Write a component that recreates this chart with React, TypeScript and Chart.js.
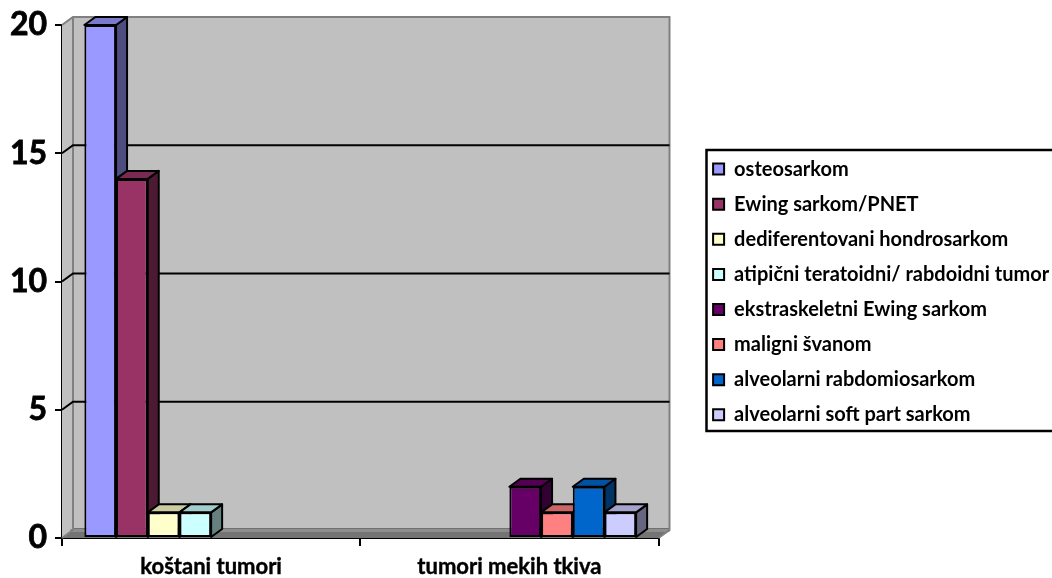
import React, { useEffect, useRef } from "react";
import { Chart, registerables } from "chart.js";

Chart.register(...registerables);

const categories = ["koštani tumori", "tumori mekih tkiva"];
const seriesNames = [
  "osteosarkom",
  "Ewing sarkom/PNET",
  "dediferentovani hondrosarkom",
  "atipični teratoidni/ rabdoidni tumor",
  "ekstraskeletni Ewing sarkom",
  "maligni švanom",
  "alveolarni rabdomiosarkom",
  "alveolarni soft part sarkom",
];
const osteosarkom = [20, null];
const ewing = [14, null];
const hondrosarkom = [1, null];
const atipicni = [1, null];
const ekstraskeletni = [null, 2];
const svanom = [null, 1];
const rabdomiosarkom = [null, 2];
const softPart = [null, 1];
const seriesValues = [osteosarkom, ewing, hondrosarkom, atipicni, ekstraskeletni, svanom, rabdomiosarkom, softPart];
const frontColors = ["#9999FF", "#993366", "#FFFFCC", "#CCFFFF", "#660066", "#FF8080", "#0066CC", "#CCCCFF"];
const topColors = ["#7A7ACC", "#7A2952", "#CCCCA3", "#A3CCCC", "#520052", "#CC6666", "#0052A3", "#A3A3CC"];
const sideColors = ["#4D4D80", "#4D1A33", "#808066", "#668080", "#330033", "#804040", "#003366", "#666680"];

const DX = 11;
const DY = 8;
const FONT = "Lato, Carlito, sans-serif";

const depthPlugin = {
  id: "depth",
  afterLayout(chart: any) {
    const l = chart.legend;
    l.left = 698;
    l.top = 144;
    l.right = 1120;
    l.bottom = 461;
    l.width = 422;
    l.height = 317;
  },
  beforeDraw(chart: any) {
    const ctx = chart.ctx;
    ctx.save();
    ctx.fillStyle = "#FFFFFF";
    ctx.fillRect(0, 0, chart.width, chart.height);
    ctx.strokeStyle = "#000000";
    ctx.lineWidth = 2.5;
    ctx.strokeRect(706.5, 150, 400, 281);
    ctx.restore();
  },
  beforeDatasetsDraw(chart: any) {
    const ctx = chart.ctx;
    const { left, right, top, bottom } = chart.chartArea;
    const yScale = chart.scales.y;
    ctx.save();
    // side wall
    ctx.fillStyle = "#C0C0C0";
    ctx.beginPath();
    ctx.moveTo(left, top);
    ctx.lineTo(left + DX, top - DY);
    ctx.lineTo(left + DX, bottom - DY);
    ctx.lineTo(left, bottom);
    ctx.closePath();
    ctx.fill();
    // back wall
    ctx.fillRect(left + DX, top - DY, right - left, bottom - top);
    // floor
    ctx.fillStyle = "#747474";
    ctx.beginPath();
    ctx.moveTo(left, bottom);
    ctx.lineTo(left + DX, bottom - DY);
    ctx.lineTo(right + DX, bottom - DY);
    ctx.lineTo(right, bottom);
    ctx.closePath();
    ctx.fill();
    // plinth band at the foot of the wall
    ctx.fillStyle = "#8E8E8E";
    ctx.fillRect(left + DX - 3, bottom - DY - 1, right - left + 3, 3);
    ctx.fillStyle = "#707070";
    ctx.fillRect(left + DX - 1, bottom - DY - 2, right - left + 1, 1);
    // wall edges
    ctx.strokeStyle = "#808080";
    ctx.lineWidth = 2;
    ctx.beginPath();
    ctx.moveTo(left, top);
    ctx.lineTo(left + DX, top - DY);
    ctx.lineTo(right + DX, top - DY);
    ctx.lineTo(right + DX, bottom - DY);
    ctx.lineTo(right, bottom);
    ctx.moveTo(left + DX, top - DY);
    ctx.lineTo(left + DX, bottom - DY);
    ctx.lineTo(left, bottom);
    ctx.stroke();
    // grid lines
    ctx.strokeStyle = "#000000";
    yScale.ticks.forEach((t: any) => {
      if (t.value === 0 || t.value === yScale.max) return;
      const y = yScale.getPixelForValue(t.value);
      ctx.beginPath();
      ctx.moveTo(left, y);
      ctx.lineTo(left + DX, y - DY);
      ctx.lineTo(right + DX, y - DY);
      ctx.stroke();
    });
    // bar depth faces
    ctx.lineJoin = "round";
    chart.data.datasets.forEach((_: any, di: number) => {
      const meta = chart.getDatasetMeta(di);
      meta.data.forEach((bar: any, i: number) => {
        if (seriesValues[di][i] == null) return;
        const hw = bar.width / 2;
        const x0 = bar.x - hw;
        const x1 = bar.x + hw;
        const yT = bar.y;
        const yB = bar.base;
        ctx.strokeStyle = "#000000";
        ctx.lineWidth = 2;
        ctx.fillStyle = sideColors[di];
        ctx.beginPath();
        ctx.moveTo(x1, yT);
        ctx.lineTo(x1 + DX, yT - DY);
        ctx.lineTo(x1 + DX, yB - DY);
        ctx.lineTo(x1, yB);
        ctx.closePath();
        ctx.fill();
        ctx.stroke();
        ctx.fillStyle = topColors[di];
        ctx.beginPath();
        ctx.moveTo(x0, yT);
        ctx.lineTo(x0 + DX, yT - DY);
        ctx.lineTo(x1 + DX, yT - DY);
        ctx.lineTo(x1, yT);
        ctx.closePath();
        ctx.fill();
        ctx.stroke();
      });
    });
    ctx.restore();
  },
};

export default function App() {
  const ref = useRef<HTMLCanvasElement | null>(null);
  useEffect(() => {
    const chart = new Chart(ref.current as HTMLCanvasElement, {
      type: "bar",
      data: {
        labels: categories,
        datasets: seriesNames.map((name, i) => ({
          label: name,
          data: seriesValues[i],
          backgroundColor: frontColors[i],
          borderColor: "#000000",
          borderWidth: 2,
          borderSkipped: false,
          categoryPercentage: 0.85,
          barPercentage: 1,
        })),
      },
      options: {
        responsive: false,
        animation: false,
        layout: { padding: { left: 0, top: 25, right: 393.5, bottom: 0 } },
        plugins: {
          title: { display: false },
          tooltip: { enabled: false },
          legend: {
            position: "chartArea",
            align: "start",
            labels: {
              boxWidth: 11,
              boxHeight: 11,
              padding: 15.1,
              color: "#000000",
              font: { family: FONT, weight: "bold", size: 20 },
            },
          },
        },
        scales: {
          x: {
            afterFit: (s: any) => {
              s.height = 40;
            },
            border: { color: "#000000", width: 2 },
            grid: { drawOnChartArea: false, color: "#000000", lineWidth: 2, tickLength: 8 },
            ticks: {
              color: "#000000",
              padding: 8,
              maxRotation: 0,
              textStrokeColor: "#000000",
              textStrokeWidth: 0.4,
              font: { family: FONT, weight: "bold", size: 22 },
            },
          },
          y: {
            min: 0,
            max: 20,
            afterFit: (s: any) => {
              s.width = 62;
              s.paddingTop = 0;
              s.paddingBottom = 0;
            },
            border: { color: "#000000", width: 2 },
            grid: { drawOnChartArea: false, color: "#000000", lineWidth: 2, tickLength: 7 },
            ticks: {
              stepSize: 5,
              color: "#000000",
              padding: 8,
              textStrokeColor: "#000000",
              textStrokeWidth: 0.8,
              font: { family: FONT, weight: "bold", size: 32 },
            },
          },
        },
      },
      plugins: [depthPlugin],
    } as any);
    return () => chart.destroy();
  }, []);
  return (
    <div style={{ position: "absolute", left: 0, top: 0, width: 1052, height: 578 }}>
      <canvas ref={ref} width={1052} height={578} style={{ display: "block" }} />
    </div>
  );
}
